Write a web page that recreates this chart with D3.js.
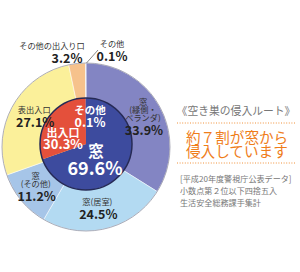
<!DOCTYPE html>
<html>
<head>
<meta charset="utf-8">
<script src="https://cdn.jsdelivr.net/npm/d3@7"></script>
<style>
  body { margin: 0; background: #fff; }
  svg { display: block; font-family: "Noto Sans CJK JP", "Noto Sans", sans-serif; }
</style>
</head>
<body>
<svg id="chart" width="300" height="272"></svg>
<script>
// outer ring (detail)
var outerNames = ["窓|(縁側・|ベランダ)", "窓(居室)", "窓|(その他)", "表出入口", "その他の出入り口", "その他"];
var outerValues = [33.9, 24.5, 11.2, 27.1, 3.2, 0.1];
var outerColors = [["#cbcce9", "#8385c3"], ["#e6f4fc", "#b3daf2"], ["#d9e8f7", "#a6c5e8"],
                   ["#fffbdc", "#fbf09a"], ["#fde5c9", "#f6c28c"], ["#eeeeee", "#cccccc"]];
// inner ring (summary)
var innerNames = ["窓", "出入口", "その他"];
var innerValues = [69.6, 30.3, 0.1];
var innerColors = ["#3d4b9e", "#e4503b", "#3d4b9e"];

var noteTitle = "《空き巣の侵入ルート》";
var noteLead = ["約７割が窓から", "侵入しています"];
var noteLines = ["[平成20年度警視庁公表データ]", "小数点第２位以下四捨五入", "生活安全総務課手集計"];

const svg = d3.select("#chart");
const cx = 86, cy = 147, R = 84;
const icx = 86, icy = 144, r = 46;

const pie = d3.pie().sort(null).value(d => d);
const outerArcs = pie(outerValues);
const innerArcs = pie(innerValues);

// gradients, light at the middle, darker to the rim
const defs = svg.append("defs");
outerColors.forEach((c, i) => {
  const g = defs.append("radialGradient")
    .attr("id", "g" + i)
    .attr("gradientUnits", "userSpaceOnUse")
    .attr("cx", cx).attr("cy", cy).attr("r", R);
  g.append("stop").attr("offset", 0.5).attr("stop-color", c[0]);
  g.append("stop").attr("offset", 1).attr("stop-color", c[1]);
});

const arcOuter = d3.arc().innerRadius(0).outerRadius(R);
const gOuter = svg.append("g").attr("transform", `translate(${cx},${cy})`);
gOuter.selectAll("path")
  .data(outerArcs)
  .enter().append("path")
    .attr("d", arcOuter)
    .attr("fill", (d, i) => `url(#g${i})`)
    .attr("stroke", "#ffffff")
    .attr("stroke-width", 0.5);
gOuter.append("circle").attr("r", R).attr("fill", "none").attr("stroke", "#9a9aa8").attr("stroke-width", 0.8);

const arcInner = d3.arc().innerRadius(0).outerRadius(r);
const gInner = svg.append("g").attr("transform", `translate(${icx},${icy})`);
gInner.selectAll("path")
  .data(innerArcs)
  .enter().append("path")
    .attr("d", arcInner)
    .attr("fill", (d, i) => innerColors[i]);
gInner.append("circle").attr("r", r).attr("fill", "none").attr("stroke", "#262a55").attr("stroke-width", 1.5);

// outer labels, inside the ring
const labelArc = d3.arc().innerRadius(64).outerRadius(64);
const nudge = [[1, 1], [-4, -1], [-1, -1], [4, 1]];
for (let i = 0; i < 4; i++) {
  const p = labelArc.centroid(outerArcs[i]);
  const lines = outerNames[i].split("|");
  const x = cx + p[0] + nudge[i][0], y0 = cy + p[1] + nudge[i][1];
  const top = y0 - (lines.length * 8 + 13) / 2;
  lines.forEach((t, k) => {
    svg.append("text").attr("x", x).attr("y", top + 7 + k * 8)
      .attr("text-anchor", "middle").attr("font-size", 8.2).attr("fill", "#333").text(t);
  });
  svg.append("text").attr("x", x + 1).attr("y", top + lines.length * 8 + 13)
    .attr("text-anchor", "middle").attr("font-size", 12.5).attr("font-weight", "bold")
    .attr("fill", "#222").text(outerValues[i].toFixed(1) + "%");
}

// outside labels for the two small slices
svg.append("text").attr("x", 52).attr("y", 49).attr("text-anchor", "middle")
  .attr("font-size", 8.2).attr("fill", "#333").text(outerNames[4]);
svg.append("text").attr("x", 67).attr("y", 63).attr("text-anchor", "middle")
  .attr("font-size", 12.5).attr("font-weight", "bold").attr("fill", "#222").text(outerValues[4].toFixed(1) + "%");
svg.append("text").attr("x", 112).attr("y", 47).attr("text-anchor", "middle")
  .attr("font-size", 8.2).attr("fill", "#333").text(outerNames[5]);
svg.append("text").attr("x", 112).attr("y", 61).attr("text-anchor", "middle")
  .attr("font-size", 12.5).attr("font-weight", "bold").attr("fill", "#222").text(outerValues[5].toFixed(1) + "%");
svg.append("line")
  .attr("x1", 98).attr("y1", 50)
  .attr("x2", cx + 0.5).attr("y2", cy - R)
  .attr("stroke", "#555").attr("stroke-width", 0.7);

// inner labels
const w = svg.append("g").attr("fill", "#fff").attr("font-weight", "bold").attr("text-anchor", "middle");
w.append("text").attr("x", 96).attr("y", 157).attr("font-size", 15.5).text(innerNames[0]);
w.append("text").attr("x", 95).attr("y", 175).attr("font-size", 18).text(innerValues[0].toFixed(1) + "%");
w.append("text").attr("x", 63).attr("y", 137).attr("font-size", 11).text(innerNames[1]);
w.append("text").attr("x", 63).attr("y", 149).attr("font-size", 13).text(innerValues[1].toFixed(1) + "%");
w.append("text").attr("x", 90).attr("y", 114).attr("font-size", 10.5).text(innerNames[2]);
w.append("text").attr("x", 90).attr("y", 127).attr("font-size", 12.5).text(innerValues[2].toFixed(1) + "%");

// note on the right
svg.append("text").attr("x", 236).attr("y", 115).attr("text-anchor", "middle")
  .attr("font-size", 10.8).attr("fill", "#777").text(noteTitle);
[123, 163].forEach(y => {
  svg.append("line").attr("x1", 177).attr("x2", 295).attr("y1", y).attr("y2", y)
    .attr("stroke", "#f0913a").attr("stroke-width", 1).attr("stroke-dasharray", "1,1.6");
});
noteLead.forEach((t, k) => {
  svg.append("text").attr("x", 186).attr("y", 143 + k * 14).attr("font-size", 14.6)
    .attr("fill", "#ef7d1a").text(t);
});
noteLines.forEach((t, k) => {
  svg.append("text").attr("x", 180).attr("y", 182 + k * 12).attr("font-size", 8.1)
    .attr("fill", "#777").text(t);
});
</script>
</body>
</html>
